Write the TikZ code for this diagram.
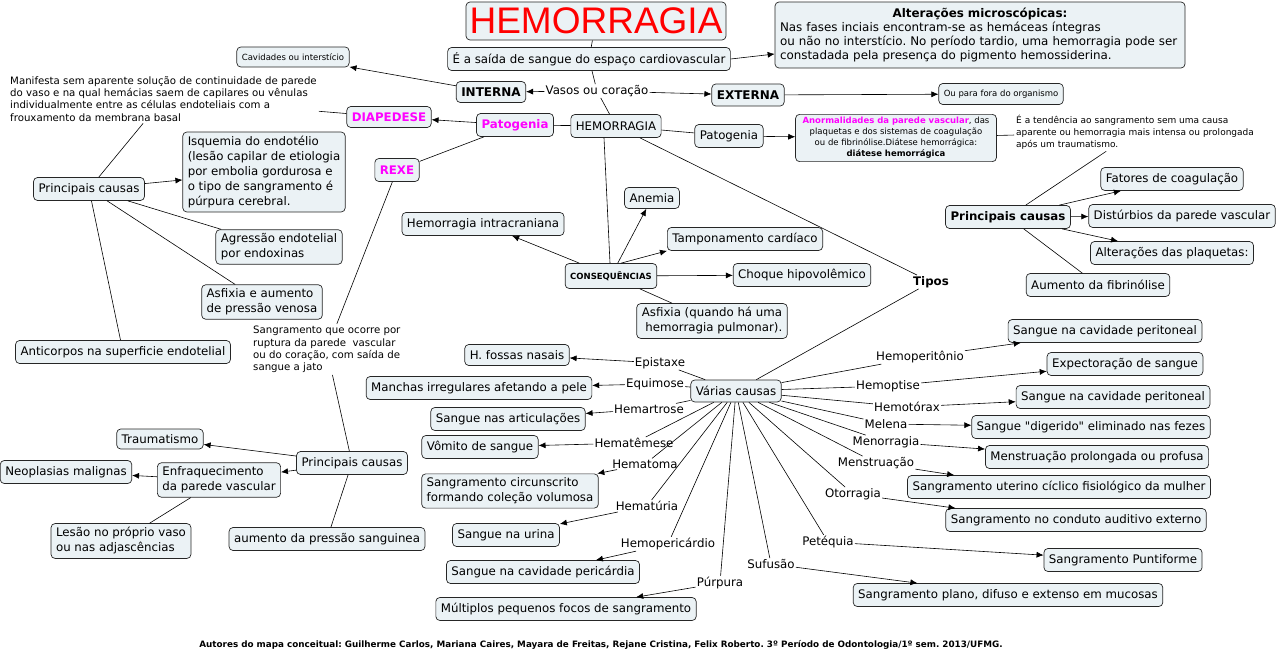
\documentclass[tikz,border=0pt]{standalone}
\usepackage{fontspec}
\setmainfont{DejaVu Sans}
\newfontfamily\titlefont{Liberation Sans}
\newfontfamily\qfont{DejaVu Sans}[Ligatures=TeXOff]
\usetikzlibrary{arrows.meta,calc}
\definecolor{boxfill}{RGB}{235,242,245}
\definecolor{pinkt}{RGB}{255,0,255}
\definecolor{titlered}{RGB}{255,0,0}
\newcommand\szN{\fontsize{11.8}{15}\selectfont}
\newcommand\szB{\fontsize{12}{14}\selectfont\bfseries}
\newcommand\szS{\fontsize{8.5}{11}\selectfont}
\newcommand\szT{\fontsize{9}{12}\selectfont}
\newcommand\szP{\fontsize{10.2}{12.3}\selectfont}
\newcommand\szC{\fontsize{8.5}{10}\selectfont\bfseries}
\newcommand\szF{\fontsize{8.8}{10}\selectfont\bfseries}
\frenchspacing
\begin{document}
\begin{tikzpicture}[x=1pt,y=-1pt,
  box/.style={draw=black!85, line width=0.7pt, rounded corners=4pt, fill=boxfill, inner xsep=5pt, inner ysep=4pt, font=\szN, minimum height=23pt},
  lbl/.style={inner sep=1pt, font=\szN},
  con/.style={line width=0.6pt, draw=black},
  arr/.style={con, -{Latex[length=7pt,width=6pt]}},
  pinkbox/.style={box, font=\szN\bfseries, text=pinkt}
]
\useasboundingbox (0,0) rectangle (1280,658);

% ---- top
\node[box, font=\titlefont\fontsize{37}{40}\selectfont, text=titlered, minimum width=260pt, minimum height=38pt, inner sep=0pt] (title) at (596,21) {HEMORRAGIA};
\node[box] (def) at (589,59) {É a saída de sangue do espaço cardiovascular};
\node[box, text width=400pt, align=left, inner xsep=5pt, inner ysep=6pt, font=\fontsize{11.9}{14}\selectfont] (micro) at (980,35) {{\centering\bfseries Alterações microscópicas:\par}Nas fases inciais encontram-se as hemáceas íntegras\\ou não no interstício. No período tardio, uma hemorragia pode ser\\constadada pela presença do pigmento hemossiderina.};
\node[box, font=\szS, minimum height=20pt, inner ysep=2pt] (cav) at (293,57) {Cavidades ou interstício};
\node[box, font=\szB, minimum height=21pt] (interna) at (491,92) {INTERNA};
\node[lbl] (vasos) at (597,91) {Vasos ou coração};
\node[box, font=\szB, minimum height=22pt] (externa) at (748,95) {EXTERNA};
\node[box, font=\szS, minimum height=21pt, inner ysep=2pt] (fora) at (1001,94) {Ou para fora do organismo};
\node[font=\szT, align=left, inner sep=2pt, anchor=west] (tend) at (1014,132) {É a tendência ao sangramento sem uma causa\\aparente ou hemorragia mais intensa ou prolongada\\após um traumatismo.};
\node[box, font=\szS, align=center, inner xsep=7pt, inner ysep=3pt] (anorm) at (896,138) {{\color{pinkt}\bfseries Anormalidades da parede vascular}, das\\plaquetas e dos sistemas de coagulação\\ou de fibrinólise.Diátese hemorrágica:\\{\bfseries diátese hemorrágica}};
\node[box] (pat2) at (729,136) {Patogenia};
\node[box] (hem) at (616,126) {HEMORRAGIA};
\node[pinkbox] (pat1) at (515,125) {Patogenia};
\node[pinkbox, minimum height=21pt] (diap) at (389,117) {DIAPEDESE};
\node[pinkbox] (rexe) at (397,170) {REXE};

% ---- left upper
\node[font=\szP, align=left, anchor=north west, inner sep=2pt] (manif) at (8,74) {Manifesta sem aparente solução de continuidade de parede\\do vaso e na qual hemácias saem de capilares ou vênulas\\individualmente entre as células endoteliais com a\\frouxamento da membrana basal};
\node[box] (pc1) at (89,189) {Principais causas};
\node[box, align=left] (isq) at (264,172) {Isquemia do endotélio\\(lesão capilar de etiologia\\por embolia gordurosa e\\o tipo de sangramento é\\púrpura cerebral.};
\node[box, align=left] (agr) at (279,247) {Agressão endotelial\\por endoxinas};
\node[box, align=left] (asf1) at (262,302) {Asfixia e aumento\\de pressão venosa};
\node[box] (antic) at (123,352) {Anticorpos na superficie endotelial};
\node[font=\szP, align=left, anchor=north west, inner sep=2pt] (sangr) at (251,324) {Sangramento que ocorre por\\ruptura da parede\ \ vascular\\ou do coração, com saída de\\sangue a jato};

% ---- left lower
\node[box] (pc2) at (352,463) {Principais causas};
\node[box, minimum height=20pt, inner ysep=2pt] (trauma) at (160,439) {Traumatismo};
\node[box, align=left] (enfraq) at (219,480) {Enfraquecimento\\da parede vascular};
\node[box] (neo) at (66,472) {Neoplasias malignas};
\node[box, align=left] (lesao) at (121,541) {Lesão no próprio vaso\\ou nas adjascências};
\node[box] (aumento) at (327,539) {aumento da pressão sanguinea};

% ---- consequencias
\node[box, font=\szC, minimum height=25pt] (conseq) at (611,276) {CONSEQUÊNCIAS};
\node[box, minimum height=21pt, inner ysep=2pt] (anemia) at (652,198) {Anemia};
\node[box] (tamp) at (745,239) {Tamponamento cardíaco};
\node[box] (choque) at (802,275) {Choque hipovolêmico};
\node[box, align=center] (asf2) at (712,321) {Asfixia (quando há uma\\\ hemorragia pulmonar).};
\node[box] (intra) at (483,224) {Hemorragia intracraniana};

% ---- right cluster
\node[box, font=\szN\bfseries] (pc3) at (1008,217) {Principais causas};
\node[box] (fatores) at (1172,179) {Fatores de coagulação};
\node[box] (dist) at (1182,216) {Distúrbios da parede vascular};
\node[box] (plaq) at (1172,253) {Alterações das plaquetas:};
\node[box] (fibr) at (1098,285) {Aumento da fibrinólise};

% ---- tipos
\node[lbl, font=\szN\bfseries] (tipos) at (931,282) {Tipos};
\node[box, minimum height=22pt] (varias) at (736,391) {Várias causas};

% labels left
\node[lbl] (epist) at (660,363) {Epistaxe};
\node[lbl] (equim) at (655,384) {Equimose};
\node[lbl] (hemart) at (649,409) {Hemartrose};
\node[lbl] (hemat) at (634,443) {Hematêmese};
\node[lbl] (hematoma) at (645,464) {Hematoma};
\node[lbl] (hematu) at (647,506) {Hematúria};
\node[lbl] (hemoper) at (668,544) {Hemopericárdio};
\node[lbl] (purp) at (720,583) {Púrpura};
\node[lbl] (sufus) at (771,564) {Sufusão};
% labels right
\node[lbl] (hperit) at (920,357) {Hemoperitônio};
\node[lbl] (hemopt) at (888,386) {Hemoptise};
\node[lbl] (hemot) at (907,407) {Hemotórax};
\node[lbl] (melena) at (886,424) {Melena};
\node[lbl] (menor) at (886,442) {Menorragia};
\node[lbl] (menst) at (876,463) {Menstruação};
\node[lbl] (otor) at (853,494) {Otorragia};
\node[lbl] (petq) at (828,542) {Petéquia};

% targets left
\node[box, minimum height=21pt, inner ysep=2pt] (fossas) at (517,355) {H. fossas nasais};
\node[box] (manchas) at (479,388) {Manchas irregulares afetando a pele};
\node[box] (artic) at (508,419) {Sangue nas articulações};
\node[box] (vomito) at (480,447) {Vômito de sangue};
\node[box, align=left] (circ) at (510,491) {Sangramento circunscrito\\formando coleção volumosa};
\node[box] (urina) at (506,535) {Sangue na urina};
\node[box] (peric) at (543,572) {Sangue na cavidade pericárdia};
\node[box] (multi) at (566,609) {Múltiplos pequenos focos de sangramento};
% targets right
\node[box] (perit1) at (1105,331) {Sangue na cavidade peritoneal};
\node[box] (expect) at (1125,364) {Expectoração de sangue};
\node[box] (perit2) at (1113,397) {Sangue na cavidade peritoneal};
\node[box] (diger) at (1091,427) {Sangue {\qfont"}digerido{\qfont"} eliminado nas fezes};
\node[box] (profusa) at (1097,457) {Menstruação prolongada ou profusa};
\node[box] (uter) at (1059,487) {Sangramento uterino cíclico fisiológico da mulher};
\node[box] (cond) at (1076,520) {Sangramento no conduto auditivo externo};
\node[box] (punt) at (1123,560) {Sangramento Puntiforme};
\node[box] (plano) at (1008,595) {Sangramento plano, difuso e extenso em mucosas};

% footer
\node[font=\szF] (autores) at (601,645) {Autores do mapa conceitual: Guilherme Carlos, Mariana Caires, Mayara de Freitas, Rejane Cristina, Felix Roberto. 3º Período de Odontologia/1º sem. 2013/UFMG.};

% ---- connectors
\draw[con] (title) -- (def);
\draw[arr] (def.east) -- ($(micro.west)+(0,19)$);
\draw[con] (def) -- (vasos);
\draw[con] (vasos) -- (hem);
\draw[arr] (vasos) -- (interna);
\draw[arr] (vasos) -- (externa);
\draw[arr] (interna) -- (cav);
\draw[arr] (externa) -- (fora);
\draw[con] (hem) -- (pat1);
\draw[con] (hem) -- (pat2);
\draw[arr] (pat2) -- (anorm);
\draw[con] (anorm) -- (tend);
\draw[con] (tend) -- (pc3);
\draw[arr] (pc3) -- (fatores);
\draw[arr] (pc3) -- (dist);
\draw[arr] (pc3) -- (plaq);
\draw[con] (pc3) -- (fibr);
\draw[arr] (pat1) -- (diap);
\draw[con] (diap) -- (manif);
\draw[con] (manif) -- (pc1);
\draw[con] (pat1) -- (rexe);
\draw[con] (rexe) -- (sangr);
\draw[con] (sangr) -- (pc2);
\draw[arr] (pc1) -- (isq);
\draw[con] (pc1) -- (agr);
\draw[con] (pc1) -- (asf1);
\draw[con] (pc1) -- (antic);
\draw[arr] (pc2) -- (trauma);
\draw[arr] (pc2) -- (enfraq);
\draw[arr] (enfraq) -- (neo);
\draw[con] (enfraq) -- (lesao);
\draw[con] (pc2) -- (aumento);

\draw[con] ([xshift=-12pt]hem.south) -- ([xshift=-1pt]conseq.north);
\draw[arr] (conseq) -- (anemia);
\draw[arr] ([xshift=10pt]conseq.north) -- (tamp.south west);
\draw[arr] (conseq) -- (choque);
\draw[con] (conseq) -- (asf2);
\draw[arr] (conseq) -- (intra);

\draw[con] (hem) -- (tipos);
\draw[con] (tipos) -- (varias);

\foreach \l/\t in {epist/fossas, equim/manchas, hemart/artic, hemat/vomito, hematoma/circ, hematu/urina, hemoper/peric, purp/multi, sufus/plano, hperit/perit1, hemopt/expect, hemot/perit2, melena/diger, menor/profusa, petq/punt}{
  \draw[con] (varias) -- (\l);
  \draw[arr] (\l) -- (\t);
}
\draw[con] (varias) -- (menst);
\draw[arr] (menst) -- ([xshift=47pt]uter.north west);
\draw[con] (varias) -- (otor);
\draw[arr] (otor) -- ([xshift=10pt]cond.north west);
\end{tikzpicture}
\end{document}
